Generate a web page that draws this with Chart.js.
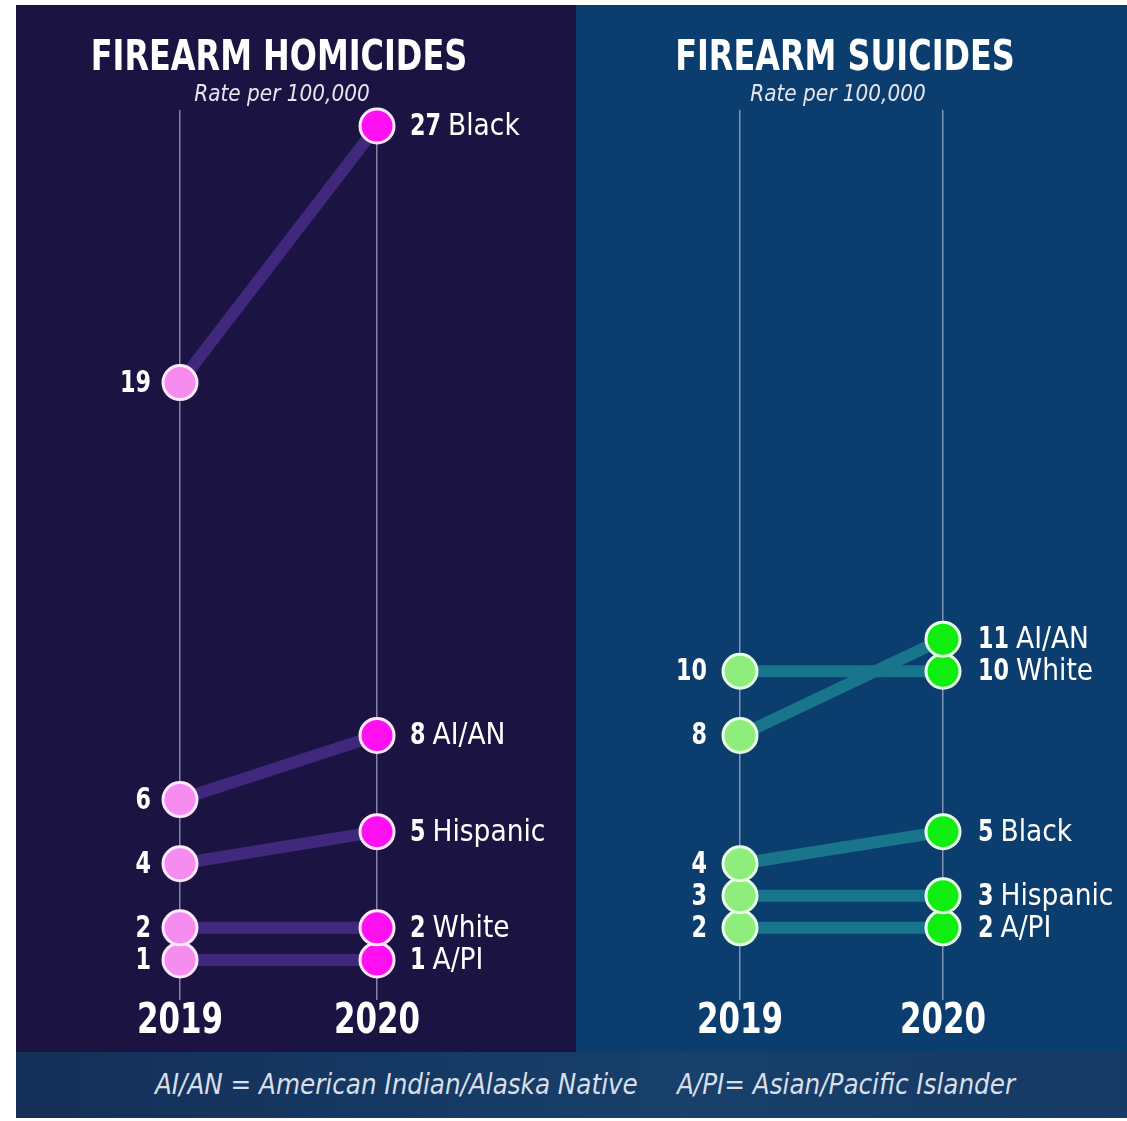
<!DOCTYPE html>
<html>
<head>
<meta charset="utf-8">
<script src="https://cdn.jsdelivr.net/npm/chart.js@4"></script>
<style>
  html, body { margin: 0; padding: 0; background: #ffffff; }
  body { width: 1127px; height: 1121px; position: relative; overflow: hidden; }
  .panel { position: absolute; top: 5px; height: 1047px; }
  #left { left: 16px; width: 560px; background: #1b1442; }
  #right { left: 576px; width: 551px; background: #0b3d6e; }
  .panel canvas { position: absolute; left: 0; top: 0; }
  .title { position: absolute; left: 0; text-align: center; color: #ffffff; white-space: nowrap;
           font-family: "DejaVu Sans Condensed", "Liberation Sans Narrow", sans-serif;
           font-weight: bold; font-size: 42px; top: 26px; transform: scaleX(0.845); transform-origin: 50% 50%; }
  .sub { position: absolute; left: 0; text-align: center; color: #e6e6f0; white-space: nowrap;
         font-family: "DejaVu Sans Condensed", "Liberation Sans Narrow", sans-serif;
         font-style: italic; font-size: 23px; top: 75px; transform: scaleX(0.97); transform-origin: 50% 50%; }
  #footer { position: absolute; left: 16px; top: 1052px; width: 1111px; height: 66px; overflow: hidden;
            background: linear-gradient(90deg, #142f58 0%, #17406b 60%, #163a63 100%); }
  #footer div { position: absolute; left: 0; width: 1138px; top: 15px; text-align: center; color: #d9dfea; white-space: nowrap;
                font-family: "DejaVu Sans Condensed", "Liberation Sans Narrow", sans-serif;
                font-style: italic; font-size: 29px; transform: scaleX(0.946); transform-origin: 50% 50%; }
</style>
</head>
<body>
<div class="panel" id="left">
  <canvas id="c1" width="560" height="1047"></canvas>
  <div class="title" style="width:526px;">FIREARM HOMICIDES</div>
  <div class="sub" style="width:532px;">Rate per 100,000</div>
</div>
<div class="panel" id="right">
  <canvas id="c2" width="551" height="1047"></canvas>
  <div class="title" style="width:538px;">FIREARM SUICIDES</div>
  <div class="sub" style="width:524px;">Rate per 100,000</div>
</div>
<div id="footer"><div>AI/AN = American Indian/Alaska Native&nbsp;&nbsp;&nbsp;&nbsp;&nbsp;A/PI= Asian/Pacific Islander</div></div>

<script>
// ---- Data ----
const years = [2019, 2020];
const homGroups = ['Black', 'AI/AN', 'Hispanic', 'White', 'A/PI'];
const hom2019 = [19, 6, 4, 2, 1];
const hom2020 = [27, 8, 5, 2, 1];
const suiGroups = ['AI/AN', 'White', 'Black', 'Hispanic', 'A/PI'];
const sui2019 = [8, 10, 4, 3, 2];
const sui2020 = [11, 10, 5, 3, 2];

const FONT = "'DejaVu Sans Condensed', 'Liberation Sans Narrow', sans-serif";

function sText(ctx, text, x, y, align, sx) {
  ctx.save();
  ctx.translate(x, y);
  ctx.scale(sx, 1);
  ctx.textAlign = align;
  ctx.fillText(text, 0, 0);
  ctx.restore();
  return ctx.measureText(text).width * sx;
}

function labelPlugin(groups, v19, v20, offL, offR) {
  return {
    id: 'slopeLabels',
    afterDatasetsDraw(chart) {
      const ctx = chart.ctx;
      const xs = chart.scales.x, ys = chart.scales.y;
      const x1 = xs.getPixelForValue(years[0]);
      const x2 = xs.getPixelForValue(years[1]);
      ctx.save();
      ctx.fillStyle = '#ffffff';
      ctx.textBaseline = 'middle';
      groups.forEach((g, i) => {
        const y1 = ys.getPixelForValue(v19[i]);
        const y2 = ys.getPixelForValue(v20[i]);
        ctx.font = 'bold 31px ' + FONT;
        sText(ctx, String(v19[i]), x1 - offL, y1 + 1, 'right', 0.8);
        const w = sText(ctx, String(v20[i]), x2 + offR, y2 + 1, 'left', 0.8);
        ctx.font = '31px ' + FONT;
        sText(ctx, g, x2 + offR + w + 7, y2 + 1, 'left', 0.95);
      });
      ctx.font = 'bold 43px ' + FONT;
      years.forEach((yr) => {
        sText(ctx, String(yr), xs.getPixelForValue(yr), chart.chartArea.bottom + 30, 'center', 0.8);
      });
      ctx.restore();
    }
  };
}

function makeChart(id, groups, v19, v20, opts) {
  const lineSets = groups.map((g, i) => ({
    label: g + ' line',
    data: [{x: years[0], y: v19[i]}, {x: years[1], y: v20[i]}],
    borderColor: opts.lineColor,
    borderWidth: 12,
    pointRadius: 0,
    order: 2,
    clip: false
  }));
  const pointSets = groups.map((g, i) => ({
    label: g,
    data: [{x: years[0], y: v19[i]}, {x: years[1], y: v20[i]}],
    showLine: false,
    pointRadius: 17,
    pointBorderWidth: 3,
    pointBackgroundColor: [opts.c19, opts.c20],
    pointBorderColor: opts.pointBorder,
    order: 1,
    clip: false
  }));
  const chart = new Chart(document.getElementById(id), {
    type: 'line',
    data: { datasets: lineSets.concat(pointSets) },
    options: {
      responsive: false,
      animation: false,
      devicePixelRatio: 1,
      layout: { padding: { top: 105, left: 0, right: 0, bottom: 0 } },
      plugins: { legend: { display: false }, tooltip: { enabled: false } },
      scales: {
        x: {
          type: 'linear',
          min: 2018, max: 2021,
          afterBuildTicks: (s) => { s.ticks = years.map(v => ({ value: v })); },
          afterFit: (s) => { s.height = 60; },
          ticks: { display: false, autoSkip: false },
          grid: { color: 'rgba(205,205,225,0.6)', lineWidth: 1.5, drawTicks: true, tickLength: 8 },
          border: { display: false }
        },
        y: { type: 'linear', min: 0, max: 27.5, display: false }
      }
    },
    plugins: [labelPlugin(groups, v19, v20, opts.offL, opts.offR)]
  });
  // fit x range so that the two year axes land where the reference has them
  const a = chart.chartArea;
  const unit = opts.p2 - opts.p1;
  const xmin = years[0] - (opts.p1 - a.left) / unit;
  chart.options.scales.x.min = xmin;
  chart.options.scales.x.max = xmin + (a.right - a.left) / unit;
  chart.update('none');
  return chart;
}

// left: 2019 at page x 180 (canvas 164), 2020 at 377 (canvas 361)
makeChart('c1', homGroups, hom2019, hom2020, {
  p1: 164, p2: 361,
  lineColor: '#40287d', c19: '#f78cf0', c20: '#ff10f0', pointBorder: '#ffe8ff',
  offL: 29, offR: 33
});
// right: 2019 at page x 740 (canvas 164), 2020 at 943 (canvas 367)
makeChart('c2', suiGroups, sui2019, sui2020, {
  p1: 164, p2: 367,
  lineColor: '#18758b', c19: '#8eee7c', c20: '#0fee10', pointBorder: '#eaffe6',
  offL: 33, offR: 35
});
</script>
</body>
</html>
